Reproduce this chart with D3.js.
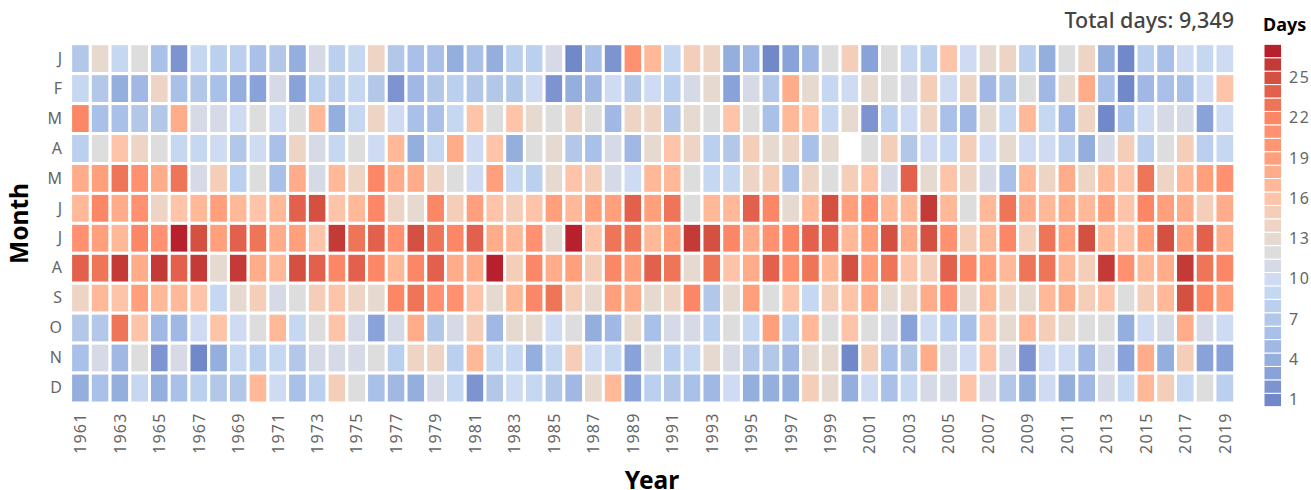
<!DOCTYPE html>
<html>
<head>
<meta charset="utf-8">
<script src="https://d3js.org/d3.v7.min.js"></script>
<style>
        html, body { margin: 0; padding: 0; background: #fff; }
        svg { display: block; font-family: "Noto Sans", sans-serif; }
        .domain { display: none; }
</style>
</head>
<body>
<div id="chart"></div>
<script>
const years = d3.range(1961, 2020);
const monthLabels = ['J', 'F', 'M', 'A', 'M ', 'J ', 'J  ', 'A ', 'S', 'O', 'N', 'D'];
const yearTicks = years.filter(y => y % 2 === 1);
const legendTicks = [1, 4, 7, 10, 13, 16, 19, 22, 25];
const totalDays = '9,349';

// days per month, one value per year 1961..2019 (null = missing)
const jan = [7,13,9,12,6,2,9,8,8,6,7,4,11,8,9,14,7,6,6,4, 6,4,8,8,11,1,6,2,21,17,9,15,14,4,5,1,3,5,12,15, 3,12,9,8,16,10,13,14,8,4,12,14,4,1,8,6,10,9,10];
const feb = [9,7,4,5,14,6,7,6,4,3,11,3,8,8,9,7,2,5,7,8, 7,7,7,10,2,4,5,10,7,10,8,11,13,3,11,7,18,13,9,10, 13,12,11,15,10,14,5,7,12,5,13,18,6,1,5,6,6,10,16];
const mar = [22,6,6,7,7,18,11,11,10,12,10,12,17,4,9,14,10,6,6,9, 16,12,16,13,12,14,12,5,14,14,7,13,12,16,12,6,17,16,9,13, 2,8,10,14,6,5,13,9,17,9,5,14,1,6,10,11,11,3,10];
const apr = [8,12,16,14,12,9,9,10,7,10,6,14,11,9,12,10,17,4,9,18, 10,16,4,12,13,7,6,11,5,13,16,14,8,7,15,13,14,6,13,null, 12,15,7,10,9,15,10,13,10,10,8,4,11,15,8,12,15,8,9];
const may = [18,19,23,21,18,23,11,15,8,12,6,18,11,17,14,22,18,18,14,12, 10,19,9,8,13,16,15,11,10,17,17,12,9,9,14,15,6,14,12,15, 16,11,24,13,16,14,11,6,17,14,18,14,17,16,23,14,17,19,21];
const jun = [17,22,18,21,14,16,17,19,17,16,17,24,25,16,17,22,14,13,22,15, 19,16,15,16,19,17,19,19,24,19,23,12,17,17,24,22,13,17,25,19, 21,17,17,26,17,12,17,23,18,17,18,17,19,16,22,19,18,15,18];
const jul = [21,19,17,22,21,27,25,19,24,23,18,19,16,26,23,24,21,25,23,22, 24,18,17,21,13,27,16,23,23,17,19,26,25,22,18,21,22,24,24,17, 19,25,18,25,21,15,17,22,15,23,19,25,17,16,19,25,19,24,18];
const aug = [24,23,26,18,26,24,26,13,26,18,17,25,24,22,24,22,17,22,24,18, 18,27,15,22,18,19,15,22,19,24,23,13,23,16,18,24,21,23,17,25, 19,23,16,15,24,22,19,17,23,23,17,15,26,21,17,18,26,23,22];
const sep = [14,17,16,19,17,17,16,9,13,15,11,12,15,16,14,13,22,23,21,21, 16,13,17,22,23,15,13,19,18,13,14,22,7,13,19,12,16,9,15,16, 18,13,14,18,21,13,17,14,13,17,18,15,16,12,15,17,25,22,19];
const oct = [7,7,23,16,5,5,10,16,10,12,17,9,12,16,11,3,11,18,7,11, 15,5,13,13,10,12,4,5,13,6,11,11,8,12,9,19,8,17,12,16, 12,11,3,10,8,6,16,13,17,15,13,12,12,4,10,11,18,11,10];
const nov = [6,11,5,12,2,11,1,4,9,8,9,7,11,11,11,12,8,14,14,8, 17,9,9,4,9,15,10,9,3,12,8,9,13,11,7,7,5,13,13,1, 15,6,7,18,11,10,16,11,2,10,10,5,11,3,18,4,15,3,3];
const dec = [4,6,4,9,4,6,8,7,7,17,10,6,8,15,12,6,5,4,11,9, 2,7,10,9,7,5,13,17,3,8,7,6,5,10,4,4,4,15,13,4, 10,6,9,11,11,16,11,7,4,10,4,5,11,9,17,15,9,12,8];
const months = [jan, feb, mar, apr, may, jun, jul, aug, sep, oct, nov, dec];

const dayValues = d3.range(1, 28);
const palette = ['#7289c9', '#7d94d0', '#89a2d9', '#94aede', '#a0b8e3', '#a9c0e8', '#b3c8e9', '#bbcfee', '#c5d7f1',
        '#cfdbf2', '#d6dae6', '#dddddd', '#e6d9d0', '#eed4c4', '#f4ceb8', '#fec4aa', '#ffb898', '#ffac8a', '#ff9f7c',
        '#ff9673', '#ff9170', '#fb8766', '#ef7558', '#e2604c', '#d45040', '#c43a36', '#b8202d'];

const width = 1311;
const height = 490;

const svg = d3.select('#chart').append('svg')
        .attr('width', width)
        .attr('height', height);

const x = d3.scaleBand().domain(years).range([70.6, 1234.7]);
const y = d3.scaleBand().domain(monthLabels).range([43.7, 403]);
const color = d3.scaleOrdinal(dayValues, palette);

const cells = months.flatMap((values, m) => values.map((v, i) => ({ year: years[i], month: monthLabels[m], days: v })))
        .filter(d => d.days !== null);

svg.append('g').selectAll('rect')
        .data(cells)
        .join('rect')
        .attr('x', d => x(d.year))
        .attr('y', d => y(d.month))
        .attr('width', x.bandwidth())
        .attr('height', y.bandwidth())
        .attr('fill', d => color(d.days))
        .attr('stroke', '#fff')
        .attr('stroke-width', 3);

// axes
const xAxis = svg.append('g')
        .attr('transform', 'translate(0,403)')
        .call(d3.axisBottom(x).tickValues(yearTicks).tickSize(0));
xAxis.selectAll('text')
        .attr('transform', 'rotate(-90)')
        .attr('x', -9.5)
        .attr('y', 0)
        .attr('dy', '0.36em')
        .attr('text-anchor', 'end')
        .attr('font-size', 16)
        .attr('letter-spacing', 1.2)
        .attr('font-family', '"Noto Sans", sans-serif')
        .attr('fill', '#666');

const yAxis = svg.append('g')
        .attr('transform', 'translate(70,0)')
        .call(d3.axisLeft(y).tickSize(0).tickFormat(d => d.trim()));
yAxis.selectAll('text')
        .attr('x', -8)
        .attr('font-size', 16)
        .attr('font-family', '"Noto Sans", sans-serif')
        .attr('fill', '#666');

// legend
const legendScale = d3.scaleBand().domain(dayValues.slice().reverse()).range([44.3, 406.7]);

svg.append('g').selectAll('rect')
        .data(dayValues)
        .join('rect')
        .attr('x', 1264)
        .attr('y', d => legendScale(d))
        .attr('width', 17.6)
        .attr('height', legendScale.bandwidth())
        .attr('fill', d => color(d))
        .attr('stroke', '#fff')
        .attr('stroke-width', 1);

const legendAxis = svg.append('g')
        .attr('transform', 'translate(1281.6,0)')
        .call(d3.axisRight(legendScale).tickValues(legendTicks).tickSize(0));
legendAxis.selectAll('text')
        .attr('x', 7.5)
        .attr('font-size', 16)
        .attr('letter-spacing', 1.6)
        .attr('font-family', '"Noto Sans", sans-serif')
        .attr('fill', '#666');

svg.append('text')
        .attr('x', 1263)
        .attr('y', 31)
        .attr('font-size', 18)
        .attr('font-weight', 700)
        .attr('fill', '#000')
        .text('Days');

svg.append('text')
        .attr('x', 1234)
        .attr('y', 28)
        .attr('text-anchor', 'end')
        .attr('font-size', 21.5)
        .attr('font-weight', 500)
        .attr('fill', '#444')
        .text(`Total days: ${totalDays}`);

svg.append('text')
        .attr('x', 652)
        .attr('y', 489)
        .attr('text-anchor', 'middle')
        .attr('font-size', 24.5)
        .attr('font-weight', 700)
        .attr('fill', '#000')
        .text('Year');

svg.append('text')
        .attr('transform', 'translate(28,223.5) rotate(-90)')
        .attr('text-anchor', 'middle')
        .attr('font-size', 24.5)
        .attr('font-weight', 700)
        .attr('fill', '#000')
        .text('Month');
</script>
</body>
</html>
